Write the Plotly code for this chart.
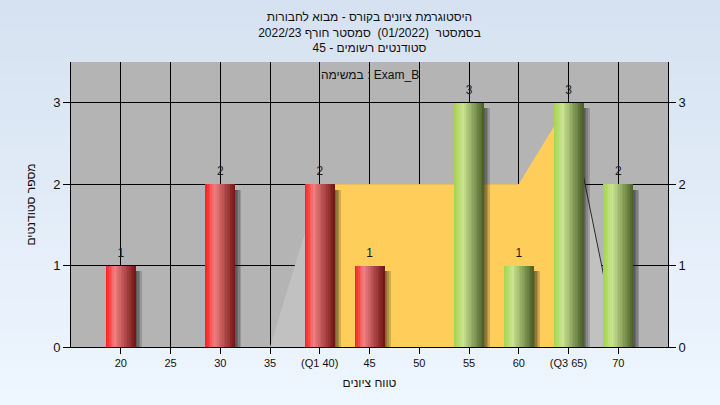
import plotly.graph_objects as go

# ---- data ----
scores = [20, 30, 40, 45, 55, 60, 65, 70]
counts = [1, 2, 2, 1, 3, 1, 3, 2]
tick_vals = [20, 25, 30, 35, 40, 45, 50, 55, 60, 65, 70]
tick_text = ["20", "25", "30", "35", "(Q1 40)", "45", "50", "55", "60", "(Q3 65)", "70"]
dist_x = [35, 40, 45, 50, 55, 60, 65, 70]
dist_y = [0, 2, 2, 2, 2, 2, 3, 0]
q1, q3 = 40, 65
pass_mark = 55
y_ticks = [0, 1, 2, 3]

RLE, PDF = "\u202b", "\u202c"
title_lines = [
    "היסטוגרמת ציונים בקורס - מבוא לחבורות",
    "בסמסטר  (01/2022)  סמסטר חורף 2022/23",
    "סטודנטים רשומים - 45",
]
task_label = "במשימה" + "\u200e" + " : Exam_B"
x_title = "טווח ציונים"
y_title = "מספר סטודנטים"
FONT = "Liberation Sans, DejaVu Sans, Arial"

W, H = 720, 405
ML, MR, MT, MB = 71, 52, 62, 58
BAR_W = 3.0
N = 18


def lerp(a, b, t):
    return tuple(int(round(a[i] + (b[i] - a[i]) * t)) for i in range(3))


def grad(stops, t):
    c0, c1, c2 = stops
    if t < 0.3:
        c = lerp(c0, c1, t / 0.3)
    else:
        c = lerp(c1, c2, (t - 0.3) / 0.7)
    return "rgb(%d,%d,%d)" % c


RED = [(255, 25, 25), (240, 128, 128), (112, 20, 20)]
GREEN = [(165, 212, 78), (202, 228, 145), (72, 92, 36)]

fig = go.Figure()

# distribution area on the base subplot (drawn beneath the bars)
fig.add_trace(go.Scatter(x=dist_x, y=dist_y, mode="lines", fill="tozeroy",
                         fillcolor="#C1C1C1", line=dict(width=0), hoverinfo="skip",
                         showlegend=False))
iq = [i for i, v in enumerate(dist_x) if q1 <= v <= q3]
fig.add_trace(go.Scatter(x=[dist_x[i] for i in iq], y=[dist_y[i] for i in iq],
                         mode="lines", fill="tozeroy", fillcolor="#FFCD59",
                         line=dict(width=0), hoverinfo="skip", showlegend=False))
tail = [i for i, v in enumerate(dist_x) if v >= q3]
fig.add_trace(go.Scatter(x=[dist_x[i] for i in tail], y=[dist_y[i] for i in tail],
                         mode="lines", line=dict(color="#2a2a2a", width=1),
                         hoverinfo="skip", showlegend=False))

# shadows (overlay subplot)
for off in [0.62, 0.45, 0.3, 0.15]:
    fig.add_trace(go.Bar(x=scores, y=counts, base=-0.07, width=BAR_W,
                         offset=-BAR_W / 2 + off, yaxis="y2",
                         marker=dict(color="rgba(30,30,30,0.2)", line=dict(width=0)),
                         hoverinfo="skip", showlegend=False))

# gradient bar slices
for k in range(N):
    t = (k + 0.5) / N
    cols = [grad(GREEN if s >= pass_mark else RED, t) for s in scores]
    fig.add_trace(go.Bar(x=scores, y=counts, width=BAR_W / N * 1.05,
                         offset=-BAR_W / 2 + k * BAR_W / N, yaxis="y2",
                         marker=dict(color=cols, line=dict(width=0)),
                         hoverinfo="skip", showlegend=False))

# value labels
fig.add_trace(go.Scatter(x=scores, y=counts, mode="markers+text", yaxis="y2",
                         text=[str(c) for c in counts],
                         marker=dict(size=8, opacity=0),
                         textposition="top center",
                         textfont=dict(family=FONT, size=12, color="#1a1a1a"),
                         hoverinfo="skip", showlegend=False))

# background gradient bands (decoration)
shapes = []
nb = 27
ph = H - MT - MB
for i in range(nb):
    py0 = i * H / nb
    py1 = (i + 1) * H / nb
    c = lerp((214, 226, 241), (238, 246, 255), i / (nb - 1))
    shapes.append(dict(type="rect", xref="paper", yref="paper",
                       x0=-0.2, x1=1.2,
                       y0=(H - MB - py1) / ph, y1=(H - MB - py0) / ph,
                       fillcolor="rgb(%d,%d,%d)" % c, line=dict(width=0), layer="below"))
shapes.append(dict(type="rect", xref="x domain", yref="y domain", x0=0, x1=1, y0=0, y1=1,
                   fillcolor="#B4B4B4", line=dict(width=0), layer="below"))

fig.update_layout(
    width=W, height=H,
    margin=dict(l=ML, r=MR, t=MT, b=MB),
    paper_bgcolor="#E4EDF8",
    plot_bgcolor="rgba(0,0,0,0)",
    barmode="overlay",
    bargap=0,
    shapes=shapes,
    hovermode=False,
    font=dict(family=FONT, size=12, color="#111"),
    title=dict(text="<br>".join(RLE + s + PDF for s in title_lines), x=0.5, xref="paper",
               y=0.948, yanchor="top", font=dict(family=FONT, size=12, color="#111")),
    xaxis=dict(range=[15, 75], tickvals=tick_vals, ticktext=tick_text,
               showgrid=True, gridcolor="black", gridwidth=1,
               ticks="outside", ticklen=6, tickcolor="black",
               showline=True, linecolor="black", linewidth=1, zeroline=False,
               tickfont=dict(family=FONT, size=11, color="#111"),
               title=dict(text=x_title, standoff=10,
                          font=dict(family=FONT, size=12, color="#111"))),
    yaxis=dict(range=[0, 3.5], tickvals=y_ticks, showgrid=True, gridcolor="black",
               gridwidth=1, ticks="outside", ticklen=7, tickcolor="black",
               showline=True, linecolor="black", linewidth=1, zeroline=False,
               tickfont=dict(family=FONT, size=13, color="#111"),
               title=dict(text=y_title, standoff=14,
                          font=dict(family=FONT, size=12, color="#111"))),
    yaxis2=dict(range=[0, 3.5], tickvals=y_ticks, overlaying="y", side="right",
                showgrid=False, ticks="outside", ticklen=7, tickcolor="black",
                showline=True, linecolor="black", linewidth=1, zeroline=False,
                tickfont=dict(family=FONT, size=13, color="#111")),
    annotations=[dict(text=task_label, xref="paper", yref="paper",
                      x=0.5, y=(H - MB - 75) / ph, yanchor="middle", showarrow=False,
                      font=dict(family=FONT, size=12, color="#111"))],
)

fig.write_html("out.html", config={"displayModeBar": False, "staticPlot": True},
               post_script="document.body.style.margin='0';")
